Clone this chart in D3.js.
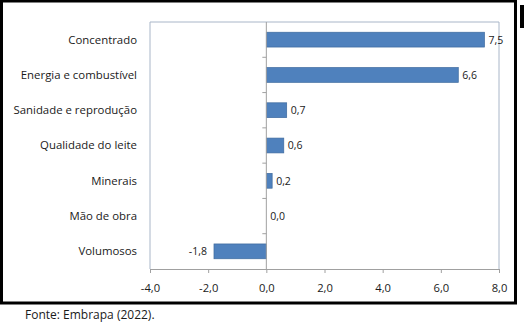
<!DOCTYPE html>
<html><head><meta charset="utf-8">
<script src="https://cdn.jsdelivr.net/npm/d3@7/dist/d3.min.js"></script>
<style>body{margin:0;background:#fff}svg{display:block}</style>
</head><body>
<script>
const categories = ["Concentrado","Energia e combustível","Sanidade e reprodução","Qualidade do leite","Minerais","Mão de obra","Volumosos"];
const values = [7.5, 6.6, 0.7, 0.6, 0.2, 0.0, -1.8];
const xTicks = [-4, -2, 0, 2, 4, 6, 8];
const source = "Fonte: Embrapa (2022).";

const W = 524, H = 323;
const svg = d3.select("body").append("svg").attr("width", W).attr("height", H);
const font = "'Open Sans', sans-serif";

// outer frame
svg.append("rect").attr("x", 1.5).attr("y", 1).attr("width", 514).attr("height", 302)
  .attr("fill", "none").attr("stroke", "#000").attr("stroke-width", 3);
svg.append("rect").attr("x", 520).attr("y", 5).attr("width", 4).attr("height", 23).attr("fill", "#000");

const L = 150, R = 499, T = 22, B = 269;
const x = d3.scaleLinear().domain([-4, 8]).range([L, R]);
const y = d3.scaleBand().domain(categories).range([T, B]).paddingInner(0.58).paddingOuter(0.29);

// plot area border
svg.append("path").attr("d", `M${L},${B}V${T}H${R}V${B}`).attr("fill", "none")
  .attr("stroke", "#A9B6C8").attr("stroke-width", 1);

// bars
svg.selectAll("rect.bar").data(values).enter().append("rect")
  .attr("x", d => x(Math.min(0, d)) )
  .attr("y", (d, i) => y(categories[i]))
  .attr("width", d => Math.abs(x(d) - x(0)))
  .attr("height", y.bandwidth())
  .attr("fill", "#4F81BD").attr("stroke", "#3E6A9E").attr("stroke-width", 0.7);

// vertical axis at zero
const yAxisG = svg.append("g").attr("transform", `translate(${x(0)},0)`);
yAxisG.append("line").attr("y1", T).attr("y2", B).attr("stroke", "#A0A0A0");
const bounds = d3.range(1, categories.length).map(i => T + i * (B - T) / categories.length);
yAxisG.selectAll("line.t").data(bounds).enter().append("line")
  .attr("x1", -4).attr("x2", 0).attr("y1", d => d).attr("y2", d => d).attr("stroke", "#A0A0A0");

// category labels
svg.selectAll("text.cat").data(categories).enter().append("text")
  .attr("x", 137).attr("y", d => y(d) + y.bandwidth() / 2).attr("dy", "0.35em")
  .attr("text-anchor", "end").attr("font-family", font).attr("font-size", 11.4).attr("fill", "#1a1a1a")
  .text(d => d);

// value labels
const fmt = v => v.toFixed(1).replace(".", ",");
svg.selectAll("text.val").data(values).enter().append("text")
  .attr("x", d => d < 0 ? x(d) - 7 : x(d) + 4)
  .attr("y", (d, i) => y(categories[i]) + y.bandwidth() / 2).attr("dy", "0.38em")
  .attr("text-anchor", d => d < 0 ? "end" : "start")
  .attr("font-family", font).attr("font-size", 10.5).attr("fill", "#1a1a1a")
  .text(fmt);

// x axis
const xAxis = d3.axisBottom(x).tickValues(xTicks).tickSize(4).tickPadding(11).tickFormat(fmt);
const gx = svg.append("g").attr("transform", `translate(0,${B})`).call(xAxis);
gx.select(".domain").attr("stroke", "#A0A0A0");
gx.selectAll(".tick line").attr("stroke", "#A0A0A0");
gx.selectAll("text").attr("font-family", font).attr("font-size", 11.2).attr("fill", "#1a1a1a");

svg.append("text").attr("x", 25).attr("y", 319).attr("font-family", font).attr("font-size", 12)
  .attr("fill", "#1a1a1a").text(source);
</script>
</body></html>
